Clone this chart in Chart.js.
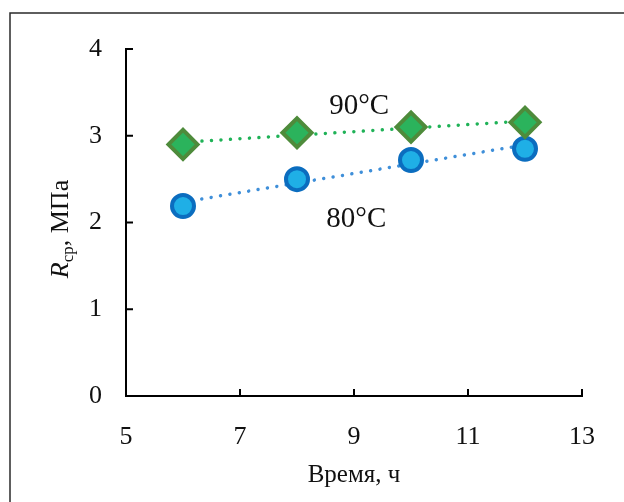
<!DOCTYPE html>
<html>
<head>
    <title>Rcp vs time</title>
    <script src="https://cdn.jsdelivr.net/npm/chart.js"></script>
    <style>
        body { margin: 0; background: #fff; }
        canvas { display: block; }
    </style>
</head>
<body>
    <canvas id="chart" width="624" height="502"></canvas>
    <script>
        // time, h
        const hours = [6, 8, 10, 12];
        // Rcp, MPa
        const r80 = [2.19, 2.50, 2.72, 2.85];
        const r90 = [2.90, 3.035, 3.10, 3.155];
        // trend line ends (x = 6 and x = 12)
        const trendX = [6, 12];
        const trend80 = [2.235, 2.895];
        const trend90 = [2.925, 3.17];
        const xTicks = [5, 7, 9, 11, 13];
        const yTicks = [0, 1, 2, 3, 4];

        const serif = "'Liberation Serif', 'Times New Roman', serif";

        function pts(xs, ys) {
            return xs.map((x, i) => ({ x: x, y: ys[i] }));
        }

        const extras = {
            id: 'extras',
            afterDraw(chart) {
                const ctx = chart.ctx;
                const xs = chart.scales.x, ys = chart.scales.y;
                const a = chart.chartArea;
                ctx.save();
                // frame of the figure
                ctx.strokeStyle = '#2a2a2a';
                ctx.lineWidth = 1.5;
                ctx.beginPath();
                ctx.moveTo(10, 502);
                ctx.lineTo(10, 13);
                ctx.lineTo(624, 13);
                ctx.stroke();
                // inward ticks
                ctx.strokeStyle = '#000';
                ctx.lineWidth = 2;
                ctx.beginPath();
                yTicks.forEach(v => {
                    const p = ys.getPixelForValue(v);
                    ctx.moveTo(a.left, p);
                    ctx.lineTo(a.left + 7, p);
                });
                xTicks.forEach(v => {
                    const p = xs.getPixelForValue(v);
                    ctx.moveTo(p, a.bottom);
                    ctx.lineTo(p, a.bottom - 7);
                });
                ctx.stroke();
                // series labels
                ctx.fillStyle = '#111';
                ctx.font = '29px ' + serif;
                ctx.textAlign = 'center';
                ctx.textBaseline = 'alphabetic';
                ctx.fillText('90°C', xs.getPixelForValue(9.09), ys.getPixelForValue(3.25));
                ctx.fillText('80°C', xs.getPixelForValue(9.04), ys.getPixelForValue(1.95));
                // y axis title: R_cp, МПа
                const big = '26px ' + serif, ital = 'italic 26px ' + serif, small = '17px ' + serif;
                ctx.font = ital; const wR = ctx.measureText('R').width;
                ctx.font = small; const wS = ctx.measureText('ср').width;
                ctx.font = big; const wT = ctx.measureText(', МПа').width;
                const total = wR + wS + wT;
                ctx.translate(68, 229 + total / 2);
                ctx.rotate(-Math.PI / 2);
                ctx.textAlign = 'left';
                ctx.font = ital;
                ctx.fillText('R', 0, 0);
                ctx.font = small;
                ctx.fillText('ср', wR, 5);
                ctx.font = big;
                ctx.fillText(', МПа', wR + wS, 0);
                ctx.restore();
            }
        };

        const dotted = {
            showLine: true,
            pointRadius: 0,
            pointHoverRadius: 0,
            borderWidth: 3.5,
            borderDash: [0.01, 9.5],
            borderCapStyle: 'round'
        };

        new Chart(document.getElementById('chart'), {
            type: 'scatter',
            data: {
                datasets: [
                    {
                        label: '90°C',
                        data: pts(hours, r90),
                        pointStyle: 'rectRot',
                        pointRadius: 14.5,
                        backgroundColor: '#2bb35c',
                        borderColor: '#4e8b3b',
                        borderWidth: 4
                    },
                    {
                        label: '80°C',
                        data: pts(hours, r80),
                        pointStyle: 'circle',
                        pointRadius: 11,
                        backgroundColor: '#1fafe6',
                        borderColor: '#0b6dbf',
                        borderWidth: 4
                    },
                    Object.assign({ label: 'trend 90', data: pts(trendX, trend90), borderColor: '#1fb257' }, dotted),
                    Object.assign({ label: 'trend 80', data: pts(trendX, trend80), borderColor: '#3f8fd9' }, dotted)
                ]
            },
            options: {
                responsive: false,
                animation: false,
                layout: { padding: { left: 0, top: 49, right: 42, bottom: 0 } },
                plugins: {
                    legend: { display: false },
                    tooltip: { enabled: false }
                },
                scales: {
                    x: {
                        type: 'linear',
                        min: 5,
                        max: 13,
                        afterBuildTicks: s => { s.ticks = xTicks.map(v => ({ value: v })); },
                        afterFit: s => { s.height = 106; },
                        grid: { display: false, drawTicks: false },
                        border: { display: true, color: '#000', width: 2 },
                        ticks: { color: '#111', padding: 26, font: { family: serif, size: 26 }, maxRotation: 0 },
                        title: { display: true, text: 'Время, ч', color: '#111', padding: { top: 0, bottom: 12 }, font: { family: serif, size: 25 } }
                    },
                    y: {
                        min: 0,
                        max: 4,
                        afterBuildTicks: s => { s.ticks = yTicks.map(v => ({ value: v })); },
                        afterFit: s => { s.width = 126; },
                        grid: { display: false, drawTicks: false },
                        border: { display: true, color: '#000', width: 2 },
                        ticks: { color: '#111', padding: 24, font: { family: serif, size: 26 } }
                    }
                }
            },
            plugins: [extras]
        });
    </script>
</body>
</html>
